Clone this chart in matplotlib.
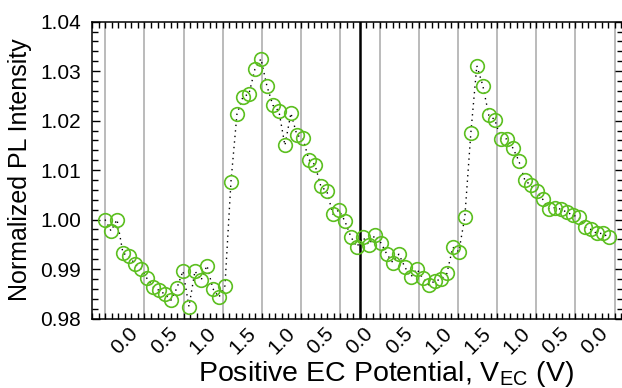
import numpy as np
import matplotlib
matplotlib.use("Agg")
import matplotlib.pyplot as plt
from matplotlib.ticker import FixedLocator, MultipleLocator, FormatStrFormatter

plt.rcParams['font.family'] = ['Liberation Sans', 'DejaVu Sans']
plt.rcParams['mathtext.default'] = 'regular'

# normalized PL intensity, one value per measurement step
intensity = [
    1.0000, 0.9977, 1.0000, 0.9932, 0.9926, 0.9910, 0.9900, 0.9881, 0.9864, 0.9857,
    0.9849, 0.9837, 0.9862, 0.9896, 0.9824, 0.9896, 0.9877, 0.9907, 0.9860, 0.9843,
    0.9866, 1.0076, 1.0213, 1.0248, 1.0254, 1.0304, 1.0325, 1.0270, 1.0231, 1.0219,
    1.0150, 1.0215, 1.0171, 1.0164, 1.0121, 1.0111, 1.0067, 1.0057, 1.0011, 1.0019,
    0.9997, 0.9965, 0.9945, 0.9964, 0.9949, 0.9968, 0.9953, 0.9930, 0.9913, 0.9930,
    0.9904, 0.9884, 0.9900, 0.9881, 0.9868, 0.9876, 0.9879, 0.9891, 0.9944, 0.9935,
    1.0005, 1.0174, 1.0311, 1.0271, 1.0211, 1.0202, 1.0163, 1.0163, 1.0145, 1.0119,
    1.0080, 1.0069, 1.0058, 1.0041, 1.0022, 1.0024, 1.0021, 1.0015, 1.0009, 1.0005,
    0.9985, 0.9980, 0.9972, 0.9972, 0.9964,
]
step = np.arange(len(intensity))

# potential sweep labels along the x axis
potential_labels = ['0.0', '0.5', '1.0', '1.5', '1.0', '0.5', '0.0',
                    '0.5', '1.0', '1.5', '1.0', '0.5', '0.0']

# axis layout in step units
grid_start, grid_step = 0.05, 6.533
label_start = grid_start + grid_step / 2
label_pos = label_start + grid_step * np.arange(len(potential_labels))
grid_pos = grid_start + grid_step * np.arange(len(potential_labels) + 1)

fig = plt.figure(figsize=(6.22, 3.88), dpi=100)
ax = fig.add_axes([92 / 622, 1 - 318.5 / 388, 531 / 622, (318.5 - 21.7) / 388])

for g in grid_pos:
    ax.axvline(g, color='#a8a8a8', lw=1.1, zorder=1)
ax.axvline(label_pos[6], color='black', lw=1.8, zorder=2)

ax.plot(step, intensity, linestyle=(0, (1, 3)), color='black', lw=1.0,
        marker='o', markersize=9.8, markerfacecolor='none',
        markeredgecolor='#5cbf20', markeredgewidth=1.2, zorder=3)

ax.set_xlim(-2.17, 86.38)
ax.set_ylim(0.98, 1.04)

ax.xaxis.set_major_locator(FixedLocator(label_pos))
ax.xaxis.set_minor_locator(FixedLocator(grid_start + grid_step / 6 * np.arange(-2, 85)))
ax.set_xticklabels(potential_labels, rotation=45, ha='center', va='top')
ax.yaxis.set_major_locator(MultipleLocator(0.01))
ax.yaxis.set_minor_locator(MultipleLocator(0.002))
ax.yaxis.set_major_formatter(FormatStrFormatter('%.2f'))

ax.tick_params(axis='both', which='both', direction='in', top=True, right=True,
               width=1.0, color='black', labelsize=15)
ax.tick_params(axis='x', which='both', length=4, pad=4)
ax.tick_params(axis='y', which='major', length=6, pad=8)
ax.tick_params(axis='y', which='minor', length=4)

for s in ax.spines.values():
    s.set_linewidth(1.1)

ax.set_ylabel('Normalized PL Intensity', fontsize=18, labelpad=6)
ax.set_xlabel(r'Positive EC Potential, V$_{EC}$ (V)', fontsize=20.5, labelpad=0)
ax.xaxis.set_label_coords(0.554, -0.135)

fig.savefig('out.png', dpi=100)
